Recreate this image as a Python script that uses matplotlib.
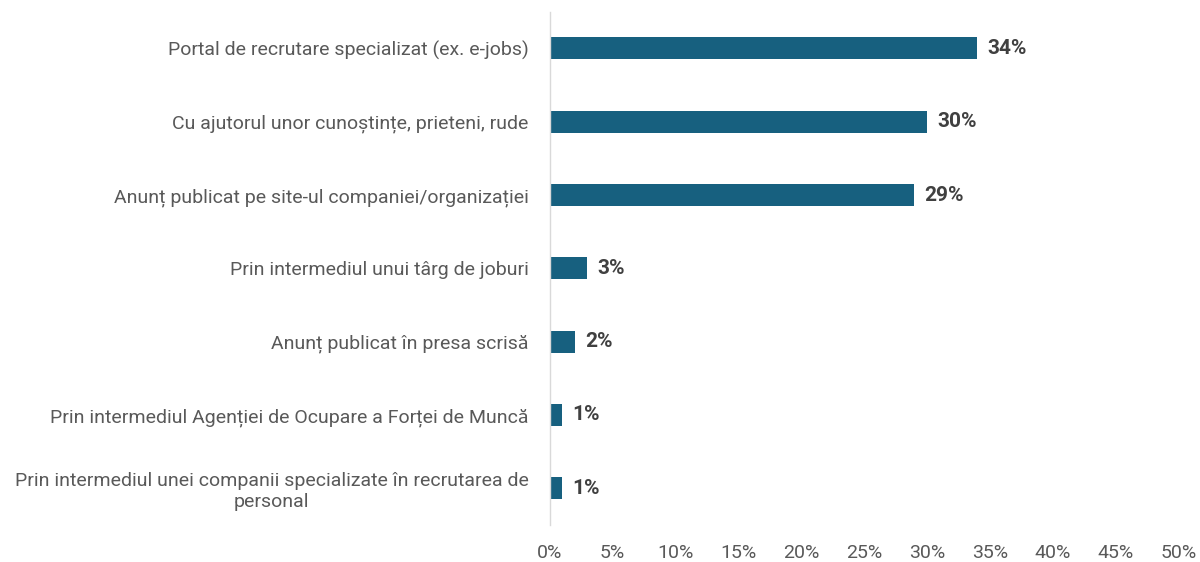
import matplotlib
matplotlib.use("Agg")
import matplotlib.pyplot as plt
from matplotlib.ticker import FuncFormatter

categories = [
    "Portal de recrutare specializat (ex. e-jobs)",
    "Cu ajutorul unor cunoștințe, prieteni, rude",
    "Anunț publicat pe site-ul companiei/organizației",
    "Prin intermediul unui târg de joburi",
    "Anunț publicat în presa scrisă",
    "Prin intermediul Agenției de Ocupare a Forței de Muncă",
    "Prin intermediul unei companii specializate în recrutarea de\npersonal",
]
values = [34, 30, 29, 3, 2, 1, 1]
value_labels = ["34%", "30%", "29%", "3%", "2%", "1%", "1%"]

plt.rcParams['font.family'] = ['Roboto', 'DejaVu Sans']

fig = plt.figure(figsize=(12, 5.62), dpi=100)
ax = fig.add_axes([0.458, 0.066, 0.524, 0.913])

y = list(range(len(categories)))
ax.barh(y, values, height=0.3, color="#17607f")
for yi, v, lab in zip(y, values, value_labels):
    ax.text(v + 0.8, yi, lab, va="center", ha="left", fontsize=15,
            fontweight="bold", color="#404040")

ax.set_xlim(0, 50)
ax.set_ylim(6.5, -0.5)
ax.set_xticks(range(0, 51, 5))
ax.xaxis.set_major_formatter(FuncFormatter(lambda x, p: f"{int(x)}%"))
ax.set_yticks(y)
ax.set_yticklabels(categories, fontsize=14, color="#595959",
                   multialignment="center")
ax.tick_params(axis="y", length=0, pad=15)
ax.tick_params(axis="x", length=0, labelsize=14, labelcolor="#595959", pad=14)

for s in ["top", "right", "bottom"]:
    ax.spines[s].set_visible(False)
ax.spines["left"].set_color("#d9d9d9")
ax.spines["left"].set_linewidth(1)

fig.savefig("out.png", dpi=100)
